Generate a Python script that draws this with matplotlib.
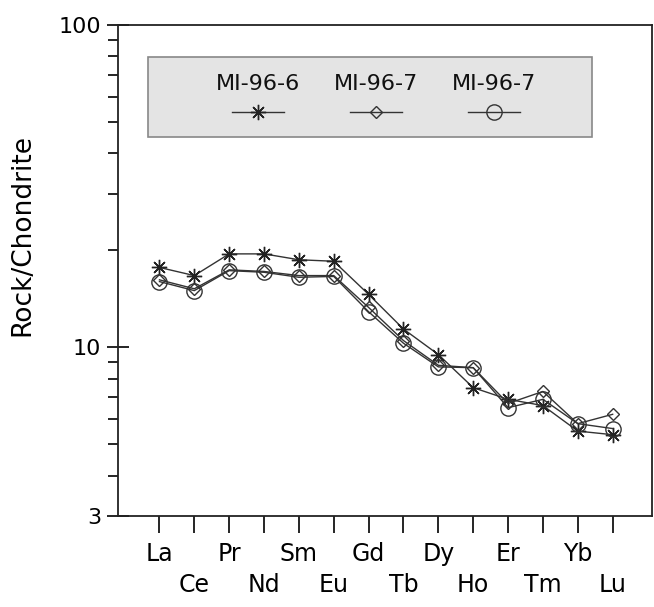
import matplotlib
matplotlib.use("Agg")
from matplotlib import pyplot as plt
from matplotlib.patches import Rectangle
from matplotlib.ticker import FixedLocator, NullFormatter

# REE order (no Pm)
elements = ["La", "Ce", "Pr", "Nd", "Sm", "Eu", "Gd", "Tb", "Dy", "Ho", "Er", "Tm", "Yb", "Lu"]

# chondrite normalized values
mi_96_6 = [17.7, 16.7, 19.5, 19.5, 18.7, 18.5, 14.6, 11.4, 9.5, 7.5, 6.9, 6.6, 5.5, 5.36]
mi_96_7a = [16.2, 15.2, 17.4, 17.2, 16.7, 16.7, 13.3, 10.5, 8.8, 8.65, 6.7, 7.3, 5.8, 6.2]
mi_96_7b = [16.0, 15.0, 17.3, 17.1, 16.5, 16.6, 12.9, 10.3, 8.7, 8.65, 6.5, 6.9, 5.8, 5.6]

labels = ["MI-96-6", "MI-96-7", "MI-96-7"]
y_ticks = [3, 10, 100]

#------------------------------
plt.rcParams["font.family"] = "DejaVu Sans"
fig = plt.figure(figsize=(6.54, 6.07), dpi=100)
ax = fig.add_axes([0.1804, 0.150, 0.8166, 0.8088])

x = list(range(len(elements)))
line_col = "#333333"
star = (8, 2, 0)   # asterisk with 8 spokes

ax.plot(x, mi_96_6, color=line_col, linewidth=1, marker=star, markersize=11,
        markeredgewidth=1, markeredgecolor="#222222")
ax.plot(x, mi_96_7a, color=line_col, linewidth=1, marker="D", markersize=6,
        markerfacecolor="none", markeredgecolor=line_col, markeredgewidth=1)
ax.plot(x, mi_96_7b, color=line_col, linewidth=1, marker="o", markersize=11,
        markerfacecolor="none", markeredgecolor=line_col, markeredgewidth=1)

#---------------------------------
#FORMATTING

ax.set_yscale("log")
ax.set_ylim(3, 100)
ax.set_xlim(-1.19, 14.13)

ax.yaxis.set_major_locator(FixedLocator(y_ticks))
ax.set_yticklabels([str(v) for v in y_ticks])
minor_y = [4, 5, 6, 7, 8, 9, 20, 30, 40, 50, 60, 70, 80, 90]
ax.yaxis.set_minor_locator(FixedLocator(minor_y))
ax.yaxis.set_minor_formatter(NullFormatter())
ax.tick_params(axis="y", which="major", direction="inout", length=16, width=1.2,
               labelsize=16, pad=4)
ax.tick_params(axis="y", which="minor", direction="out", length=7, width=1.2)

# two rows of element labels: even ones on major ticks, odd ones on minor ticks
ax.xaxis.set_major_locator(FixedLocator(x[0::2]))
ax.set_xticklabels(elements[0::2])
ax.xaxis.set_minor_locator(FixedLocator(x[1::2]))
ax.set_xticks(x[1::2], elements[1::2], minor=True)
ax.tick_params(axis="x", which="both", direction="out", length=12, width=1.2,
               labelsize=17)
ax.tick_params(axis="x", which="major", pad=7)
ax.tick_params(axis="x", which="minor", pad=29)

for s in ax.spines.values():
    s.set_linewidth(1.3)
    s.set_color("#222222")

ax.set_ylabel("Rock/Chondrite", fontsize=19)
ax.yaxis.set_label_coords(-0.155, 0.573)

# legend box with labels above the line samples
ax.add_patch(Rectangle((0.056, 0.771), 0.832, 0.164, transform=ax.transAxes,
                       facecolor="#e4e4e4", edgecolor="#888888", linewidth=1.2))
leg_x = [0.262, 0.483, 0.704]
leg_marker = [dict(marker=star, markersize=11, markeredgecolor="#222222"),
              dict(marker="D", markersize=6, markerfacecolor="none", markeredgecolor=line_col),
              dict(marker="o", markersize=11, markerfacecolor="none", markeredgecolor=line_col)]
for cx, lab, mk in zip(leg_x, labels, leg_marker):
    ax.text(cx, 0.880, lab, transform=ax.transAxes, ha="center", va="center",
            fontsize=16, color="#111111")
    ax.plot([cx - 0.049, cx + 0.049], [0.822, 0.822], transform=ax.transAxes,
            color=line_col, linewidth=1, clip_on=False)
    ax.plot([cx], [0.822], transform=ax.transAxes, linestyle="none",
            markeredgewidth=1, clip_on=False, **mk)

plt.savefig("out.png", dpi=100)
